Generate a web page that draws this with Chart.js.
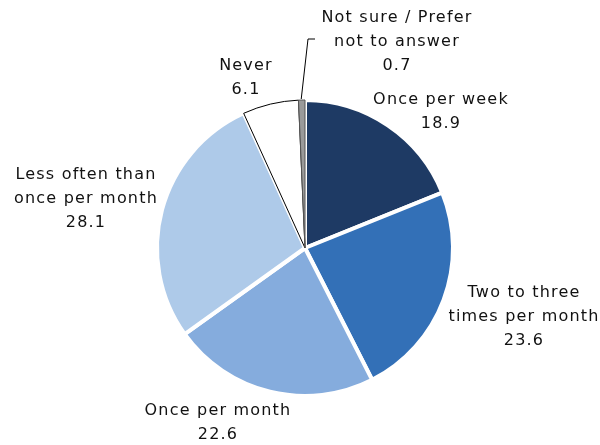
<!DOCTYPE html>
<html lang="en">
<head>
    <meta charset="UTF-8">
    <title>Frequency pie</title>
    <script src="https://cdn.jsdelivr.net/npm/chart.js"></script>
    <style>
        body {
            margin: 0;
            padding: 0;
            background: #fff;
        }
        #pieChart {
            display: block;
        }
    </style>
</head>
<body>
    <canvas id="pieChart" width="600" height="445"></canvas>

    <script>
        // categories and values (percent), clockwise from 12 o'clock
        const categories = [
            'Once per week',
            'Two to three times per month',
            'Once per month',
            'Less often than once per month',
            'Never',
            'Not sure / Prefer not to answer'
        ];
        const values = [18.9, 23.6, 22.6, 28.1, 6.1, 0.7];

        // how each label is broken into lines on the chart
        const labelLines = [
            ['Once per week'],
            ['Two to three', 'times per month'],
            ['Once per month'],
            ['Less often than', 'once per month'],
            ['Never'],
            ['Not sure / Prefer', 'not to answer']
        ];

        const fills = ['#1e3a64', '#3370b7', '#85acdd', '#aecae9', '#ffffff', '#9a9a9a'];
        const borders = ['#ffffff', '#ffffff', '#ffffff', '#ffffff', '#000000', '#555555'];
        const borderWidths = [4, 4, 4, 4, 1, 1];

        // label block centre, offset from the pie centre (px)
        const labelOffsets = [
            [136, -136],
            [219, 69],
            [-87, 175],
            [-219, -49],
            [-59, -170],
            [92, -206]
        ];
        const lineHeight = 24;

        const outsideLabels = {
            id: 'outsideLabels',
            afterDatasetsDraw(chart) {
                const ctx = chart.ctx;
                const arcs = chart.getDatasetMeta(0).data;
                ctx.save();
                ctx.font = '16px "DejaVu Sans"';
                ctx.letterSpacing = '1.2px';
                ctx.fillStyle = '#111';
                ctx.textAlign = 'center';
                ctx.textBaseline = 'middle';
                arcs.forEach((arc, i) => {
                    const lines = labelLines[i].concat([values[i].toFixed(1)]);
                    const cx = arc.x + labelOffsets[i][0];
                    const cy = arc.y + labelOffsets[i][1];
                    const top = cy - (lines.length - 1) * lineHeight / 2;
                    lines.forEach((t, k) => ctx.fillText(t, cx, top + k * lineHeight));
                });

                // leader line for the small "Not sure" slice
                const small = arcs[5];
                const mid = (small.startAngle + small.endAngle) / 2;
                const r = small.outerRadius + 1;
                const ex = small.x + Math.cos(mid) * r;
                const ey = small.y + Math.sin(mid) * r;
                const ly = small.y + labelOffsets[5][1] - 3;
                ctx.strokeStyle = '#000';
                ctx.lineWidth = 1;
                ctx.beginPath();
                ctx.moveTo(ex - 0.5, ey);
                ctx.lineTo(small.x + 3, ly);
                ctx.lineTo(small.x + 10, ly);
                ctx.stroke();
                ctx.restore();
            }
        };

        new Chart(document.getElementById('pieChart'), {
            type: 'pie',
            data: {
                labels: categories,
                datasets: [{
                    data: values,
                    backgroundColor: fills,
                    borderColor: borders,
                    borderWidth: borderWidths
                }]
            },
            options: {
                responsive: false,
                animation: false,
                layout: {
                    padding: { left: 155, right: 145, top: 98, bottom: 47 }
                },
                plugins: {
                    legend: { display: false },
                    tooltip: { enabled: false }
                }
            },
            plugins: [outsideLabels]
        });
    </script>
</body>
</html>
